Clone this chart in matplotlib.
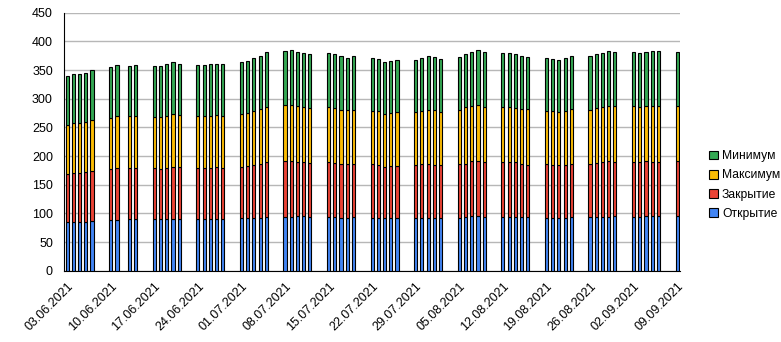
import numpy as np
import pandas as pd
import matplotlib
matplotlib.use('Agg')
import matplotlib.pyplot as plt
import matplotlib.dates as mdates
from matplotlib.patches import Patch

plt.rcParams['font.family'] = ['Liberation Sans', 'DejaVu Sans']

# trading dates (as they sit on the date axis)
dates = ['03.06.2021', '04.06.2021', '05.06.2021', '06.06.2021', '07.06.2021',
         '10.06.2021', '11.06.2021', '13.06.2021', '14.06.2021',
         '17.06.2021', '18.06.2021', '19.06.2021', '20.06.2021', '21.06.2021',
         '24.06.2021', '25.06.2021', '26.06.2021', '27.06.2021', '28.06.2021',
         '01.07.2021', '02.07.2021', '03.07.2021', '04.07.2021', '05.07.2021',
         '08.07.2021', '09.07.2021', '10.07.2021', '11.07.2021', '12.07.2021',
         '15.07.2021', '16.07.2021', '17.07.2021', '18.07.2021', '19.07.2021',
         '22.07.2021', '23.07.2021', '24.07.2021', '25.07.2021', '26.07.2021',
         '29.07.2021', '30.07.2021', '31.07.2021', '01.08.2021', '02.08.2021',
         '05.08.2021', '06.08.2021', '07.08.2021', '08.08.2021', '09.08.2021',
         '12.08.2021', '13.08.2021', '14.08.2021', '15.08.2021', '16.08.2021',
         '19.08.2021', '20.08.2021', '21.08.2021', '22.08.2021', '23.08.2021',
         '26.08.2021', '27.08.2021', '28.08.2021', '29.08.2021', '30.08.2021',
         '02.09.2021', '03.09.2021', '04.09.2021', '05.09.2021', '06.09.2021',
         '09.09.2021']

otkrytie = [84.5, 86, 86, 85.5, 87.5,
            89, 89.5, 90, 90,
            90, 90, 90, 91, 90.5,
            90, 90, 90, 91, 90,
            91.5, 91.5, 93, 93, 94,
            94, 94.5, 96, 95, 94.5,
            94.5, 94.5, 93, 93, 94,
            93, 93, 93, 93, 93,
            93, 93, 93, 93, 93,
            93, 94.5, 95.5, 95.5, 94.5,
            94.5, 94.5, 94.5, 94.5, 94.5,
            93, 93, 93, 93, 94.5,
            94.5, 94.5, 94.5, 94.5, 96,
            94.5, 94.5, 96, 95, 95,
            96]
zakrytie = [84.5, 84.5, 84.5, 86.5, 86.5,
            88.5, 89.5, 89, 89,
            89, 87.5, 89, 90, 90.5,
            89.5, 89.5, 89.5, 90, 89.5,
            89.5, 91, 91.5, 94, 95.5,
            97, 97, 93.5, 94.5, 93.5,
            95, 93.5, 93, 93, 92,
            93, 91.5, 88, 89.5, 89.5,
            91.5, 93, 93, 92, 92,
            93, 92.5, 96, 95.5, 95,
            95, 95, 94.5, 92, 90,
            93, 91.5, 91.5, 91.5, 91.5,
            91.5, 93.5, 95, 97, 93.5,
            95, 94.5, 95, 95.5, 95.5,
            95.5]
maksimum = [85, 87, 87, 87, 88.5,
            88.5, 90.5, 90.5, 90.5,
            89, 90.5, 90.5, 92, 90.5,
            90, 90, 90, 90.5, 90,
            92, 92, 93.5, 94.5, 95.5,
            97.5, 97, 97.5, 95.5, 95.5,
            95.5, 95.5, 94, 94, 94,
            92, 93.5, 92, 92, 94,
            92, 92, 94, 95, 91.5,
            94, 98, 95.5, 97.5, 95.5,
            95.5, 95.5, 94.5, 95, 97,
            92, 93.5, 92, 93.5, 95.5,
            94, 95.5, 95.5, 95.5, 97.5,
            97.5, 96, 96, 96.5, 96.5,
            96]
minimum = [86, 86, 86, 86.5, 88,
           89.5, 89.5, 88, 89.5,
           89.5, 89.5, 91.5, 91.5, 89.5,
           89.5, 89.5, 91.5, 89.5, 91.5,
           91.5, 91.5, 93.5, 93, 96.5,
           95, 96.5, 94.5, 95, 94.5,
           95, 94.5, 94.5, 91.5, 94.5,
           93.5, 91.5, 91.5, 91.5, 91.5,
           91.5, 93.5, 94.5, 93, 93,
           93, 93, 94.5, 96.5, 96.5,
           95, 95, 94.5, 93, 91.5,
           93.5, 91.5, 91.5, 93.5, 93,
           94.5, 94.5, 95, 96.5, 94.5,
           94.5, 95, 94.5, 96.5, 96.5,
           94.5]

series = [('Открытие', otkrytie, '#4285F4'),
          ('Закрытие', zakrytie, '#EA4335'),
          ('Максимум', maksimum, '#FBBC04'),
          ('Минимум', minimum, '#34A853')]

x = pd.to_datetime(dates, format='%d.%m.%Y')

fig = plt.figure(figsize=(7.81, 3.42), dpi=100)
ax = fig.add_axes([0.082, 0.208, 0.789, 0.755])

bottom = np.zeros(len(dates))
for name, vals, col in series:
    vals = np.array(vals)
    ax.bar(x, vals, width=0.5, bottom=bottom, color=col, edgecolor='black',
           linewidth=0.8, zorder=3)
    bottom += vals

ax.set_ylim(0, 450)
ax.set_yticks(np.arange(0, 451, 50))
ax.yaxis.grid(True, color='#b7b7b7', linewidth=1, zorder=0)
ax.set_axisbelow(True)

start = pd.Timestamp('2021-06-03')
end = pd.Timestamp('2021-09-09')
ax.set_xlim(start - pd.Timedelta(hours=12), end + pd.Timedelta(hours=12))
ticks = pd.date_range(start, end, freq='7D')
ax.set_xticks(ticks)
ax.xaxis.set_major_formatter(mdates.DateFormatter('%d.%m.%Y'))
plt.setp(ax.get_xticklabels(), rotation=45, ha='right', rotation_mode='anchor')

ax.tick_params(axis='both', length=0, labelsize=9, colors='black')
ax.tick_params(axis='y', pad=8)
ax.tick_params(axis='x', pad=7)
for s in ['top', 'right']:
    ax.spines[s].set_visible(False)
ax.spines['left'].set_color('black')
ax.spines['bottom'].set_color('black')
ax.spines['left'].set_linewidth(0.8)
ax.spines['bottom'].set_linewidth(0.8)

handles = [Patch(facecolor=col, edgecolor='black', linewidth=0.8, label=name)
           for name, vals, col in series][::-1]
fig.legend(handles=handles, loc='upper left', bbox_to_anchor=(0.902, 0.575),
           frameon=False, fontsize=8.7, handlelength=0.75, handleheight=0.75,
           handletextpad=0.3, labelspacing=0.6, borderaxespad=0)

fig.savefig('out.png', dpi=100)
